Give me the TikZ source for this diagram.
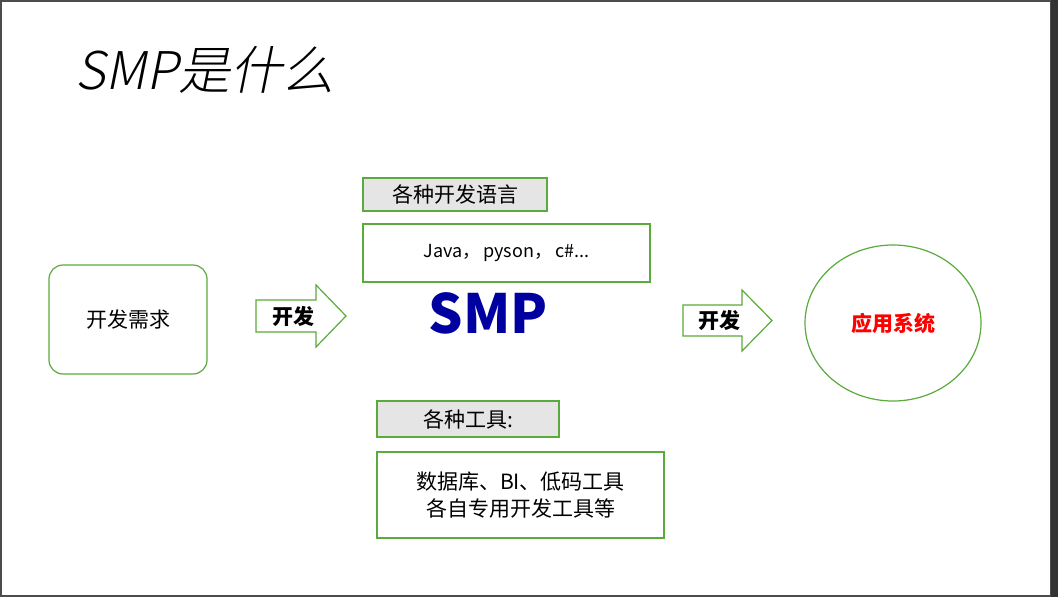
\documentclass[tikz,border=0pt]{standalone}
\usepackage{fontspec}
\setmainfont{Noto Sans CJK SC}
\newfontfamily\cjk{Noto Sans CJK SC}
\newfontfamily\cjkslant[FakeSlant=0.2]{Noto Sans CJK SC Light}
\usetikzlibrary{shapes.geometric,shapes.arrows}
\definecolor{gr}{RGB}{90,170,60}
\definecolor{smpblue}{RGB}{0,0,160}
\tikzset{
 box/.style={draw=gr,line width=1.2pt,minimum height=#1,inner sep=0pt,font=\fontsize{21}{24}\selectfont},
 gbox/.style={box=#1,fill=black!10},
 arr/.style={draw=gr,line width=1.2pt,fill=white}
}
\begin{document}
\begin{tikzpicture}[x=1pt,y=-1pt]
\useasboundingbox (0,0) rectangle (1058,597);
\draw[black!70,line width=1.5pt] (0.75,0.75) rectangle (1051,596);
\fill[black!80] (1051,0) rectangle (1058,597);
\node[anchor=west,font=\cjkslant\fontsize{52}{56}\selectfont] (title) at (72,70) {SMP是什么};
\node[box=109pt,minimum width=158pt,rounded corners=14pt] (req) at (128,319.5) {开发需求};
\draw[arr] (256,300) -- (316,300) -- (316,285) -- (346,316) -- (316,347) -- (316,332) -- (256,332) -- cycle;
\node[font=\bfseries\fontsize{21}{24}\selectfont] (d1) at (293,316) {开发};
\node[gbox=33pt,minimum width=184pt] (lang) at (455,194.5) {各种开发语言};
\node[box=58pt,minimum width=287pt,font=\fontsize{18}{20}\selectfont] (java) at (506.5,253) {Java，\,pyson，\,c\#...};
\node[font=\bfseries\fontsize{54}{58}\selectfont,text=smpblue] (smp) at (488,313) {SMP};
\draw[arr] (683,305) -- (742,305) -- (742,290) -- (772,320.5) -- (742,351) -- (742,336) -- (683,336) -- cycle;
\node[font=\bfseries\fontsize{21}{24}\selectfont] (d2) at (719,320.5) {开发};
\node[draw=gr,line width=1.2pt,ellipse,minimum width=176pt,minimum height=156pt,font=\bfseries\fontsize{21}{24}\selectfont,text=red] (app) at (893,323) {应用系统};
\node[gbox=36pt,minimum width=182pt] (tools) at (468,419) {各种工具:};
\node[box=86pt,minimum width=287pt,align=center,font=\fontsize{21}{27}\selectfont] (tl) at (520.5,495) {数据库、BI、低码工具\\各自专用开发工具等};
\end{tikzpicture}
\end{document}
